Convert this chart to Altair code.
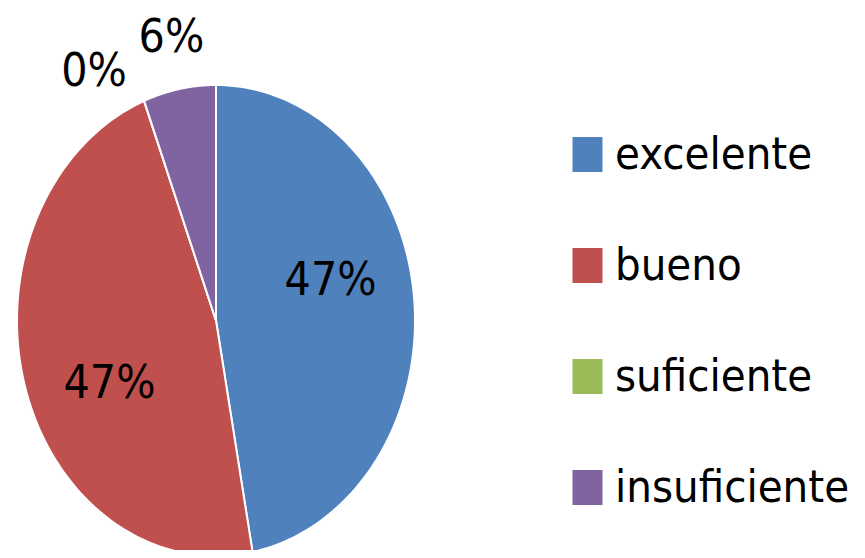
import altair as alt
import pandas as pd

categories = ["excelente", "bueno", "suficiente", "insuficiente"]
values = [8, 8, 0, 1]
colors = ["#4F81BD", "#C0504D", "#9BBB59", "#8064A2"]

df = pd.DataFrame({"categoria": categories, "valor": values,
                   "orden": list(range(len(categories)))})

FONT = "Liberation Sans Narrow, DejaVu Sans Condensed, Roboto, sans-serif"
N = 120

xs = alt.Scale(domain=[-1, 1], range=[9, 407])
ys = alt.Scale(domain=[-1, 1], range=[548, 77])
color_scale = alt.Scale(domain=categories, range=colors)

base = alt.Chart(df).transform_joinaggregate(
    total="sum(valor)"
).transform_window(
    acum="sum(valor)", sort=[alt.SortField("orden")], frame=[None, 0]
).transform_calculate(
    ini="2*PI*(datum.acum - datum.valor)/datum.total",
    fin="2*PI*datum.acum/datum.total",
)

slices = base.transform_calculate(
    k=f"sequence(-1, {N + 2})"
).transform_flatten(["k"]).transform_calculate(
    r=f"(datum.k < 0 || datum.k > {N}) ? 0 : 1",
    a=f"datum.ini + (datum.fin - datum.ini) * clamp(datum.k, 0, {N}) / {N}",
).transform_calculate(
    px="datum.r * sin(datum.a)",
    py="datum.r * cos(datum.a)",
).mark_line(stroke="white", strokeWidth=2, strokeJoin="round").encode(
    x=alt.X("px:Q", scale=xs, axis=None),
    y=alt.Y("py:Q", scale=ys, axis=None),
    fill=alt.Fill(
        "categoria:N", scale=color_scale, sort=categories,
        legend=alt.Legend(
            title=None, orient="none", legendX=557, legendY=124,
            symbolType="M-1,-1.17H1V1.17H-1Z", symbolSize=900,
            symbolStrokeWidth=0, symbolOpacity=1,
            labelFont=FONT, labelFontSize=45, labelColor="black",
            labelOffset=5, labelLimit=400, rowPadding=65, padding=0,
        ),
    ),
    detail="categoria:N",
    order="k:Q",
)

labels = base.transform_calculate(
    pct="datum.valor / datum.total"
).transform_calculate(
    dentro="datum.pct > 0.1"
).transform_calculate(
    am="(datum.ini + datum.fin)/2 + (datum.dentro ? -11 : (datum.valor == 0 ? -9 : 0)) * PI / 180",
    rr="datum.dentro ? 0.6 : 1.22",
    etiqueta="format(datum.pct, '.0%')",
).transform_calculate(
    lx="datum.rr * sin(datum.am)",
    ly="datum.rr * cos(datum.am)",
).mark_text(font=FONT, fontSize=46, color="black").encode(
    x=alt.X("lx:Q", scale=xs, axis=None),
    y=alt.Y("ly:Q", scale=ys, axis=None),
    text="etiqueta:N",
)

chart = alt.layer(slices, labels).properties(
    width=849, height=542, padding=0, autosize="none", background="white"
).configure_view(stroke=None)

chart.save("out.html", embed_options={"renderer": "svg", "actions": False})
